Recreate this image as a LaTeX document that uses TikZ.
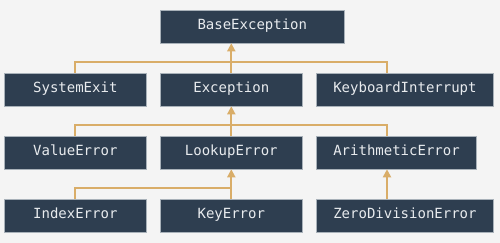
\documentclass[tikz,border=0pt]{standalone}
\usepackage{fontspec}
\setmonofont{DejaVu Sans Mono}
\usepackage{xcolor}
\usetikzlibrary{arrows.meta, positioning, calc}
\definecolor{PageGray}{HTML}{F4F4F4}
\definecolor{BoxSlate}{HTML}{2E3E50}
\definecolor{BoxEdge}{HTML}{A8B1B9}
\definecolor{BoxText}{HTML}{E8EBEE}
\definecolor{LinkGold}{HTML}{D9AD68}

\begin{document}
\begin{tikzpicture}[
    x=1pt, y=1pt,
    exc/.style={rectangle, draw=BoxEdge, line width=0.6pt, fill=BoxSlate,
                text=BoxText, minimum width=142pt, minimum height=33pt,
                inner xsep=17pt, text height=10pt, text depth=3pt,
                anchor=west, font=\fontsize{14}{16}\selectfont\ttfamily},
    link/.style={LinkGold, line width=1.8pt},
    arrow/.style={-{Triangle[length=8pt,width=8pt]}, link}
]
\fill[PageGray] (0,0) rectangle (500,243);
\useasboundingbox (0,0) rectangle (500,243);

% Top
\node[exc, minimum width=184pt] (base) at (160,216.5) {BaseException};

% Second row
\node[exc] (sysexit) at (4,153.5) {SystemExit};
\node[exc] (exception) at (160,153.5) {Exception};
\node[exc] (kbint) at (316,153.5) {KeyboardInterrupt};

% Third row
\node[exc] (valueerr) at (4,90.5) {ValueError};
\node[exc] (lookuperr) at (160,90.5) {LookupError};
\node[exc] (aritherr) at (316,90.5) {ArithmeticError};

% Bottom row
\node[exc] (indexerr) at (4,27.5) {IndexError};
\node[exc] (keyerr) at (160,27.5) {KeyError};
\node[exc] (zerodiv) at (316,27.5) {ZeroDivisionError};

% Buses
\coordinate (busA) at (231,181);
\coordinate (busB) at (231,118);
\coordinate (busC) at (231,55);

% Links
\draw[link] (sysexit.north) |- (busA) -| ([xshift=71pt]kbint.north west);
\draw[arrow] (exception.north) -- (base.south -| exception.north);
\draw[link] (valueerr.north) |- (busB) -| ([xshift=71pt]aritherr.north west);
\draw[arrow] (lookuperr.north) -- (exception.south);
\draw[link] (indexerr.north) |- (busC);
\draw[arrow] (keyerr.north) -- (lookuperr.south);
\draw[arrow] ([xshift=71pt]zerodiv.north west) -- ([xshift=71pt]aritherr.south west);

\end{tikzpicture}
\end{document}
